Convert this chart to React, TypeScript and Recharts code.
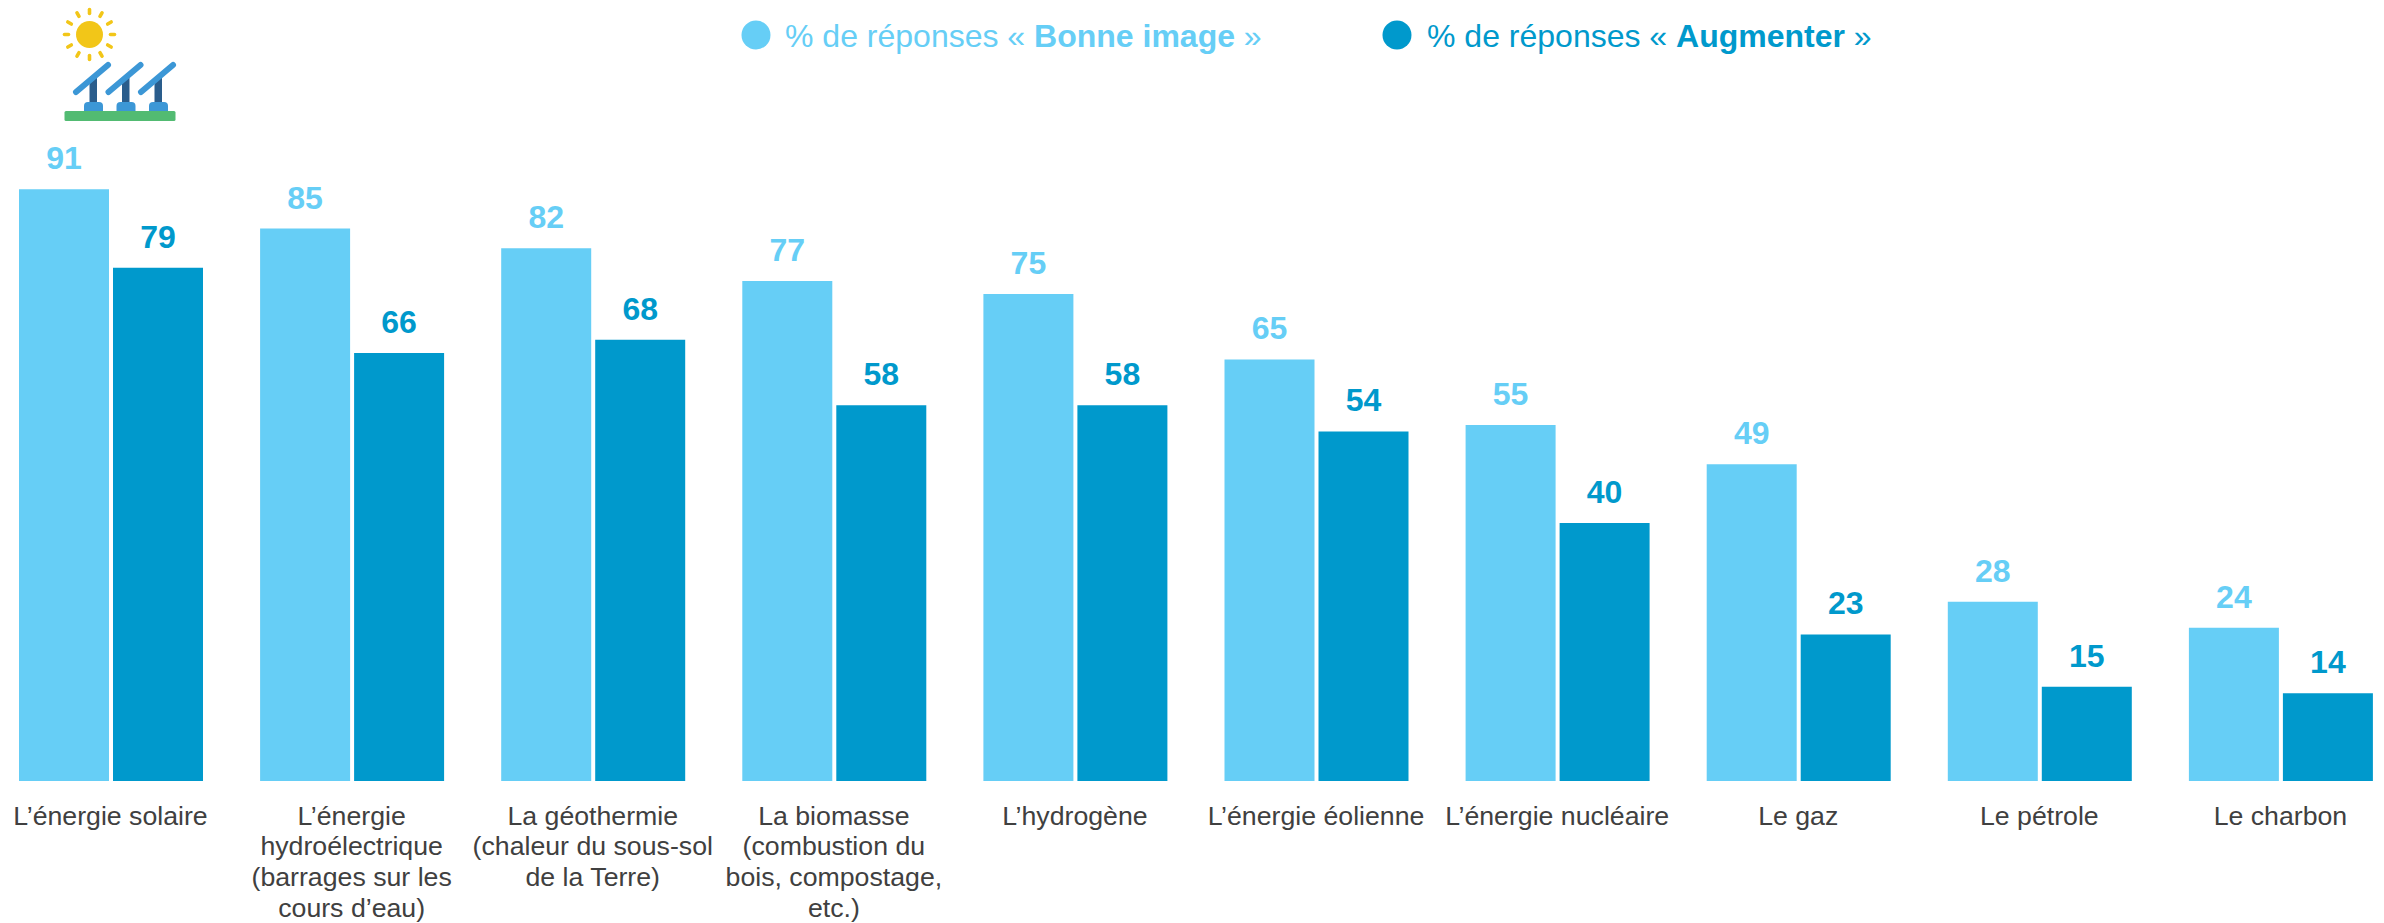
import React from "react";
import { BarChart, Bar, XAxis, YAxis, LabelList, Legend } from "recharts";

const categories = [
  "L’énergie solaire",
  "L’énergie\nhydroélectrique\n(barrages sur les\ncours d’eau)",
  "La géothermie\n(chaleur du sous-sol\nde la Terre)",
  "La biomasse\n(combustion du\nbois, compostage,\netc.)",
  "L’hydrogène",
  "L’énergie éolienne",
  "L’énergie nucléaire",
  "Le gaz",
  "Le pétrole",
  "Le charbon",
];
const bonneImage = [91, 85, 82, 77, 75, 65, 55, 49, 28, 24];
const augmenter = [79, 66, 68, 58, 58, 54, 40, 23, 15, 14];
const seriesPrefix = "% de réponses « ";
const seriesSuffix = " »";
const seriesBold = ["Bonne image", "Augmenter"];

const LIGHT = "#66CEF6";
const DARK = "#0099CC";
const FONT = "'Liberation Sans', Arial, sans-serif";

const data = categories.map((name, i) => ({
  name,
  bonne: bonneImage[i],
  augmenter: augmenter[i],
}));

const Tick = (props: any) => {
  const { x, y, payload } = props;
  const lines = String(payload.value).split("\n");
  return (
    <text x={x} textAnchor="middle" fontFamily={FONT} fontSize={26.7} fill="#404040">
      {lines.map((l: string, i: number) => (
        <tspan key={i} x={x} y={y + 35.5 + i * 30.7}>
          {l}
        </tspan>
      ))}
    </text>
  );
};

const LegendContent = () => {
  const items = [
    { cx: 756, tx: 785, color: LIGHT },
    { cx: 1397, tx: 1427, color: DARK },
  ];
  return (
    <svg width={2000} height={70} style={{ display: "block" }}>
      {items.map((it, i) => (
        <g key={i}>
          <circle cx={it.cx} cy={35} r={14.5} fill={it.color} />
          <text x={it.tx} y={47} fontFamily={FONT} fontSize={32} fill={it.color}>
            {seriesPrefix}
            <tspan fontWeight="bold">{seriesBold[i]}</tspan>
            {seriesSuffix}
          </text>
        </g>
      ))}
    </svg>
  );
};

const rays = [0, 30, 60, 90, 120, 150, 180, 210, 240, 270, 300, 330];
const panels = [0, 32.5, 65];

const Icon = () => (
  <svg
    width={200}
    height={130}
    style={{ position: "absolute", left: 0, top: 0, pointerEvents: "none" }}
  >
    {rays.map((a) => {
      const r = (a * Math.PI) / 180;
      return (
        <line
          key={a}
          x1={89.5 + 21 * Math.cos(r)}
          y1={34.5 + 21 * Math.sin(r)}
          x2={89.5 + 25 * Math.cos(r)}
          y2={34.5 + 25 * Math.sin(r)}
          stroke="#F2C618"
          strokeWidth={3.6}
          strokeLinecap="round"
        />
      );
    })}
    <circle cx={89.5} cy={34.5} r={13.5} fill="#F2C618" />
    {panels.map((d) => (
      <g key={d} transform={`translate(${d},0)`}>
        <rect x={89.5} y={78} width={7.5} height={26} fill="#2A5D8C" />
        <line x1={76} y1={92} x2={108} y2={65} stroke="#3C97D6" strokeWidth={6} strokeLinecap="round" />
        <path d="M84 112 v-6 a4 4 0 0 1 4 -4 h11 a4 4 0 0 1 4 4 v6 z" fill="#3C97D6" />
      </g>
    ))}
    <rect x={64.5} y={111} width={111} height={10} rx={1.5} fill="#52BB72" />
  </svg>
);

export default function App() {
  return (
    <div
      style={{
        position: "absolute",
        left: 0,
        top: 0,
        width: 2384,
        height: 923,
        overflow: "hidden",
        background: "#fff",
      }}
    >
      <div style={{ position: "absolute", left: -10, top: 0 }}>
        <BarChart
          width={2411}
          height={923}
          data={data}
          barSize={90}
          barGap={4}
          margin={{ top: 130.4, right: 0, bottom: 0, left: 0 }}
        >
          <XAxis
            dataKey="name"
            interval={0}
            axisLine={false}
            tickLine={false}
            height={142}
            tick={<Tick />}
          />
          <YAxis hide domain={[0.6, 100]} allowDataOverflow />
          <Legend
            layout="horizontal"
            verticalAlign="middle"
            align="center"
            content={<LegendContent />}
            wrapperStyle={{ position: "absolute", left: 10, top: 0, width: 2000, height: 70 }}
          />
          <Bar dataKey="bonne" fill={LIGHT} isAnimationActive={false}>
            <LabelList
              dataKey="bonne"
              position="top"
              offset={20}
              fill={LIGHT}
              fontFamily={FONT}
              fontSize={32}
              fontWeight="bold"
            />
          </Bar>
          <Bar dataKey="augmenter" fill={DARK} isAnimationActive={false}>
            <LabelList
              dataKey="augmenter"
              position="top"
              offset={20}
              fill={DARK}
              fontFamily={FONT}
              fontSize={32}
              fontWeight="bold"
            />
          </Bar>
        </BarChart>
      </div>
      <Icon />
    </div>
  );
}
